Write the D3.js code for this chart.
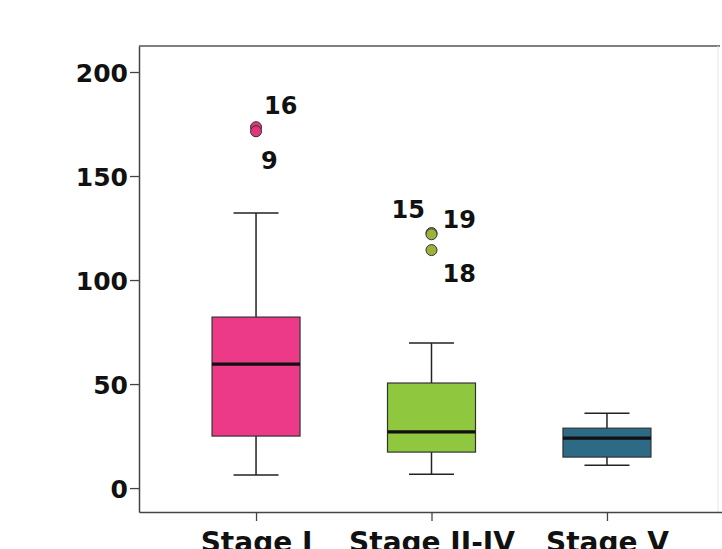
<!DOCTYPE html>
<html>
<head>
<meta charset="utf-8">
<script src="https://cdn.jsdelivr.net/npm/d3@7"></script>
<style>
  body { margin: 0; background: #fff; }
  svg { display: block; }
  text { font-family: "DejaVu Sans", sans-serif; font-weight: bold; fill: #111; }
</style>
</head>
<body>
<script>
// values
const stages    = ["Stage I", "Stage II-IV", "Stage V"];
const whiskLow  = [6.3, 6.7, 11];
const q1        = [25, 17.3, 14.9];
const medians   = [59.6, 27, 24];
const q3        = [82.2, 50.5, 28.8];
const whiskHigh = [132.2, 69.7, 36];
const outStage  = ["Stage I", "Stage I", "Stage II-IV", "Stage II-IV", "Stage II-IV"];
const outValue  = [173.5, 171.5, 122.6, 122.0, 114.4];
const outLabel  = ["16", "9", "15", "19", "18"];
const yTicks    = [0, 50, 100, 150, 200];

const colors    = { "Stage I": "#ec3a88", "Stage II-IV": "#8fc73e", "Stage V": "#2c6a86" };
const dotColors = { "Stage I": "#e2367a", "Stage II-IV": "#9bb23c" };
// label offsets from their point (px)
const labelOff  = { "16": [8, -13], "9": [5, 38], "15": [-40, -15], "19": [11, -6], "18": [11, 32] };

const W = 722, H = 549;
const plotL = 139, plotR = 724, plotT = 46, plotB = 512;

const svg = d3.select("body").append("svg")
    .attr("width", W)
    .attr("height", H);

const x = d3.scalePoint().domain(stages).range([plotL, plotR]).padding(0.667);
const y = d3.scaleLinear().domain([-11.5, 212.5]).range([plotB, plotT]);

// frame
svg.append("line")
    .attr("x1", plotL).attr("x2", 720).attr("y1", plotT).attr("y2", plotT)
    .attr("stroke", "#555").attr("stroke-width", 1.5);
svg.append("line")
    .attr("x1", 718).attr("x2", 718).attr("y1", plotT).attr("y2", plotB)
    .attr("stroke", "#e4e4e4").attr("stroke-width", 1);

// axes
const yAxis = d3.axisLeft(y).tickValues(yTicks).tickSize(9).tickSizeOuter(0).tickPadding(2);
const gy = svg.append("g").attr("transform", `translate(${plotL},0)`).call(yAxis);
gy.select(".domain").attr("stroke", "#444").attr("stroke-width", 1.5);
gy.selectAll(".tick line").attr("stroke", "#444").attr("stroke-width", 1.3);
gy.selectAll(".tick text").style("font-size", "25px").attr("fill", "#111").attr("dy", "0.36em");

const xAxis = d3.axisBottom(x).tickSize(9).tickSizeOuter(0).tickPadding(10);
const gx = svg.append("g").attr("transform", `translate(0,${plotB})`).call(xAxis);
gx.select(".domain").attr("stroke", "#444").attr("stroke-width", 1.5);
gx.selectAll(".tick line").attr("stroke", "#444").attr("stroke-width", 1.3);
gx.selectAll(".tick text").style("font-size", "28px").attr("fill", "#111").attr("dy", "0.76em");

// boxes
const boxW = 88, capW = 45;
const data = stages.map((s, i) => ({ s, lo: whiskLow[i], q1: q1[i], med: medians[i], q3: q3[i], hi: whiskHigh[i] }));

const g = svg.append("g");
const box = g.selectAll("g.box").data(data).enter().append("g").attr("class", "box");

box.append("line")
    .attr("x1", d => x(d.s)).attr("x2", d => x(d.s))
    .attr("y1", d => y(d.hi)).attr("y2", d => y(d.lo))
    .attr("stroke", "#222").attr("stroke-width", 1.5);
box.append("line")
    .attr("x1", d => x(d.s) - capW / 2).attr("x2", d => x(d.s) + capW / 2)
    .attr("y1", d => y(d.hi)).attr("y2", d => y(d.hi))
    .attr("stroke", "#222").attr("stroke-width", 1.5);
box.append("line")
    .attr("x1", d => x(d.s) - capW / 2).attr("x2", d => x(d.s) + capW / 2)
    .attr("y1", d => y(d.lo)).attr("y2", d => y(d.lo))
    .attr("stroke", "#222").attr("stroke-width", 1.5);
box.append("rect")
    .attr("x", d => x(d.s) - boxW / 2)
    .attr("y", d => y(d.q3))
    .attr("width", boxW)
    .attr("height", d => y(d.q1) - y(d.q3))
    .attr("fill", d => colors[d.s])
    .attr("stroke", "#333").attr("stroke-width", 1.2);
box.append("line")
    .attr("x1", d => x(d.s) - boxW / 2).attr("x2", d => x(d.s) + boxW / 2)
    .attr("y1", d => y(d.med)).attr("y2", d => y(d.med))
    .attr("stroke", "#111").attr("stroke-width", 3.2);

// outliers
const outs = outValue.map((v, i) => ({ s: outStage[i], v, label: outLabel[i] }));
g.selectAll("circle.out").data(outs).enter().append("circle")
    .attr("class", "out")
    .attr("cx", d => x(d.s))
    .attr("cy", d => y(d.v))
    .attr("r", 5.5)
    .attr("fill", d => dotColors[d.s])
    .attr("stroke", "#333").attr("stroke-width", 1);

g.selectAll("text.lab").data(outs).enter().append("text")
    .attr("class", "lab")
    .attr("x", d => x(d.s) + labelOff[d.label][0])
    .attr("y", d => y(d.v) + labelOff[d.label][1])
    .style("font-size", "24px")
    .text(d => d.label);
</script>
</body>
</html>
